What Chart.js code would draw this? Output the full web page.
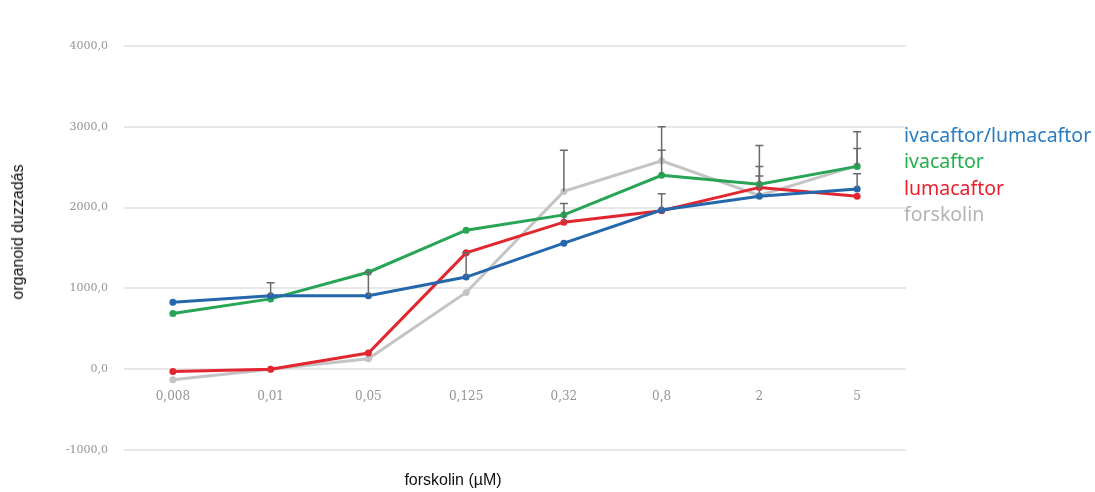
<!DOCTYPE html>
<html>
<head>
<meta charset="utf-8">
<script src="https://cdn.jsdelivr.net/npm/chart.js@4"></script>
<style>
  body { margin: 0; background: #fff; }
  .wrap { position: relative; width: 1095px; height: 492px; }
  #chart { position: absolute; left: 0; top: 0; }
  .ytitle {
    position: absolute; left: 18px; top: 232px;
    transform: translate(-50%, -50%) rotate(-90deg);
    font: 16px "Liberation Sans", Arial, sans-serif; color: #111; white-space: nowrap;
  }
  .xtitle {
    position: absolute; left: 453px; top: 480px; transform: translate(-50%, -50%);
    font: 16px "Liberation Sans", Arial, sans-serif; color: #111; white-space: nowrap;
  }
  .legend { position: absolute; left: 904px; top: 122px; font: 19.5px "Noto Sans", sans-serif; }
  .legend div { height: 26.3px; line-height: 26px; }
</style>
</head>
<body>
<div class="wrap">
  <canvas id="chart" width="1095" height="492"></canvas>
  <div class="ytitle">organoid duzzadás</div>
  <div class="xtitle">forskolin (µM)</div>
  <div class="legend" id="legend"></div>
</div>
<script>
const concentrations = ['0,008', '0,01', '0,05', '0,125', '0,32', '0,8', '2', '5'];
const seriesNames = ['ivacaftor/lumacaftor', 'ivacaftor', 'lumacaftor', 'forskolin'];

const ivaLuma = [830, 910, 910, 1140, 1560, 1970, 2140, 2230];
const iva = [690, 870, 1200, 1720, 1910, 2400, 2290, 2510];
const luma = [-30, 0, 200, 1440, 1820, 1960, 2250, 2140];
const forskolin = [-130, 0, 130, 950, 2200, 2580, 2150, 2520];

// upper error (same unit as values), 0 = not shown
const ivaLumaErr = [0, 160, 290, 300, 0, 200, 0, 190];
const ivaErr = [0, 0, 0, 0, 0, 310, 220, 220];
const lumaErr = [0, 0, 0, 0, 230, 0, 140, 0];
const forskolinErr = [0, 0, 0, 0, 510, 420, 620, 420];

const yTicks = [-1000, 0, 1000, 2000, 3000, 4000];

const lineColors = ['#2567ad', '#27a455', '#e2262f', '#c4c4c4'];
const legendColors = ['#2a7cc1', '#22b14c', '#ea1f2b', '#b3b3b3'];

const values = [ivaLuma, iva, luma, forskolin];
const errors = [ivaLumaErr, ivaErr, lumaErr, forskolinErr];

// legend as text
const legendEl = document.getElementById('legend');
seriesNames.forEach((name, i) => {
  const d = document.createElement('div');
  d.textContent = name;
  d.style.color = legendColors[i];
  legendEl.appendChild(d);
});

// error bars drawn through the chart's scales
const errorBars = {
  id: 'errorBars',
  afterDatasetsDraw(chart) {
    const ctx = chart.ctx;
    const x = chart.scales.x, y = chart.scales.y;
    ctx.save();
    ctx.strokeStyle = '#6a6a6a';
    ctx.lineWidth = 1.5;
    chart.data.datasets.forEach((ds) => {
      ds.errors.forEach((e, i) => {
        if (!e) return;
        const px = x.getPixelForValue(i);
        const y0 = y.getPixelForValue(ds.data[i]);
        const y1 = y.getPixelForValue(ds.data[i] + e);
        ctx.beginPath();
        ctx.moveTo(px, y0); ctx.lineTo(px, y1);
        ctx.moveTo(px - 4, y1); ctx.lineTo(px + 4, y1);
        ctx.stroke();
      });
    });
    ctx.restore();
  }
};

new Chart(document.getElementById('chart'), {
  type: 'line',
  data: {
    labels: concentrations,
    datasets: seriesNames.map((name, i) => ({
      label: name,
      data: values[i],
      errors: errors[i],
      borderColor: lineColors[i],
      backgroundColor: lineColors[i],
      borderWidth: 3,
      pointRadius: 3.5,
      pointBorderWidth: 0,
      tension: 0
    }))
  },
  options: {
    responsive: false,
    animation: false,
    layout: { padding: { top: 46, right: 189, bottom: 42, left: 0 } },
    plugins: { legend: { display: false }, tooltip: { enabled: false } },
    scales: {
      x: {
        position: { y: 0 },
        offset: true,
        grid: { display: false },
        border: { display: false },
        ticks: {
          color: '#949494', padding: 12,
          font: { family: 'DejaVu Serif', size: 12 }
        }
      },
      y: {
        min: -1000, max: 4000,
        afterBuildTicks: s => { s.ticks = yTicks.map(v => ({ value: v })); },
        afterFit: s => { s.width = 124; },
        grid: { color: '#e8e8e8', lineWidth: 2, drawTicks: false },
        border: { display: false },
        ticks: {
          color: '#949494', padding: 16,
          font: { family: 'DejaVu Serif', size: 11 },
          callback: v => v.toFixed(1).replace('.', ',')
        }
      }
    }
  },
  plugins: [errorBars]
});
</script>
</body>
</html>
